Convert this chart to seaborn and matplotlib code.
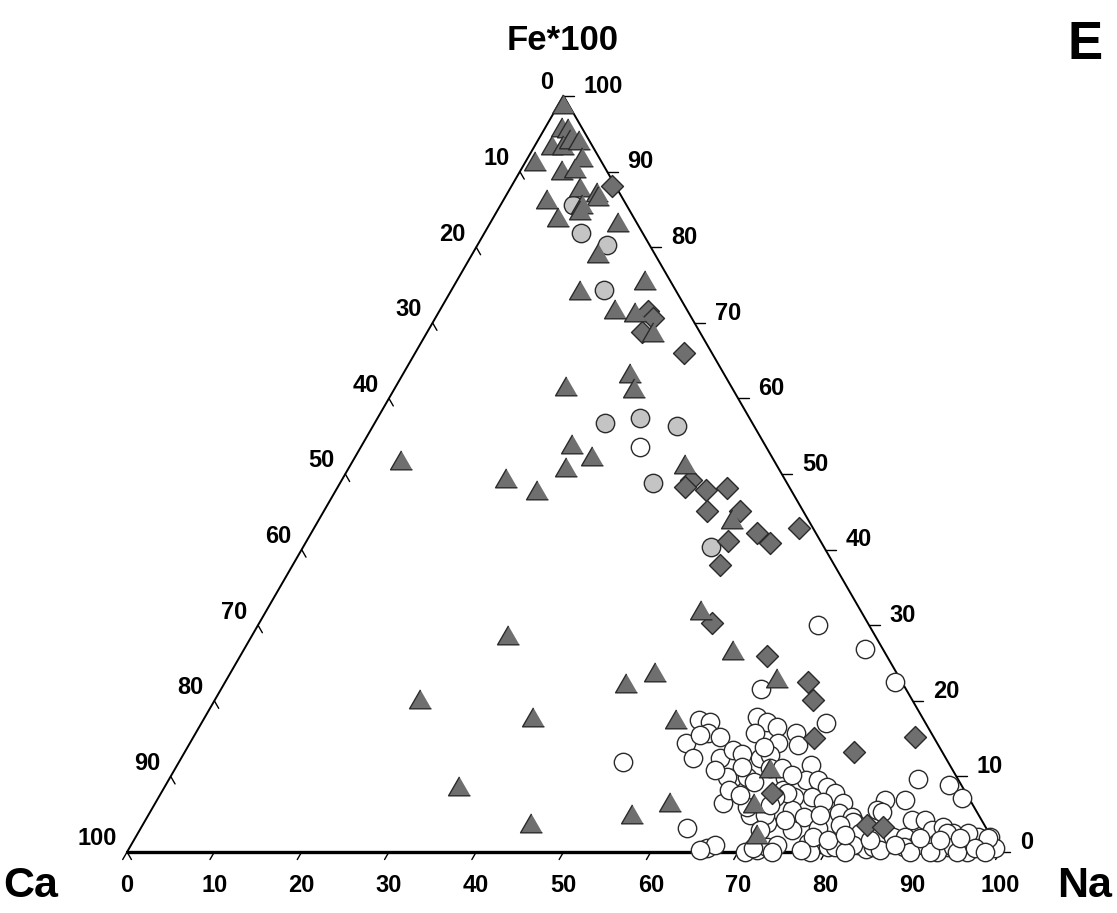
import numpy as np
import pandas as pd
import seaborn as sns
import matplotlib
matplotlib.use("Agg")
import matplotlib.pyplot as plt

# ternary compositions in percent; Ca = 100 - Fe - Na
tri_fe = [98.5, 95.5, 95.4, 93.1, 93.1, 93.9, 93.8, 91.0, 91.5, 89.8, 90.1, 87.6, 86.9, 86.4,
          86.0, 85.3, 84.5, 83.6, 82.9, 78.8, 73.9, 75.3, 71.4, 71.0, 68.4, 63.0, 61.0, 61.2,
          53.6, 52.0, 50.5, 49.1, 47.5, 50.9, 43.7, 51.5, 31.6, 28.3, 26.3, 19.8, 17.5, 22.0,
          23.4, 22.6, 17.2, 8.3, 3.4, 4.6, 6.2, 10.7, 6.1, 2.0]
tri_na = [0.7, 2.1, 2.8, 2.1, 3.4, 3.8, 4.9, 1.2, 6.4, 4.9, 6.3, 8.1, 10.4, 10.8,
          5.1, 9.5, 9.6, 7.6, 14.8, 14.6, 14.9, 21.7, 20.2, 22.7, 26.1, 26.1, 27.6, 19.7,
          24.2, 27.3, 25.0, 18.9, 23.2, 38.5, 47.4, 5.6, 50.0, 29.5, 56.3, 23.7, 37.8, 46.2,
          48.8, 63.2, 54.3, 33.9, 44.6, 55.5, 59.1, 68.3, 68.8, 71.2]

dia_fe = [88.1, 71.6, 70.6, 68.8, 66.0, 49.2, 48.3, 47.9, 48.1, 45.1, 45.1, 42.2, 40.9,
          42.9, 41.1, 38.0, 30.3, 25.9, 22.5, 20.1, 15.1, 13.2, 15.2, 7.8, 3.6, 3.3]
dia_na = [11.5, 23.9, 25.0, 24.6, 30.8, 40.0, 39.8, 42.4, 44.7, 43.9, 47.7, 51.1, 53.2,
          55.5, 48.3, 48.9, 51.9, 60.4, 66.7, 68.5, 71.2, 76.7, 82.7, 70.0, 83.0, 84.9]

grey_fe = [85.6, 81.9, 80.3, 74.3, 56.7, 57.4, 56.3, 48.8, 40.3]
grey_na = [8.3, 11.0, 14.8, 17.5, 26.4, 30.1, 34.9, 35.9, 46.7]

open_fe = [53.6, 30.0, 26.9, 22.5, 21.6, 11.9, 3.2, 17.1,
           17.5, 17.2, 15.7, 15.2, 14.4, 12.4, 12.4, 13.5, 13.0, 17.9, 17.2, 16.5, 15.7, 14.4,
           12.4, 12.8, 9.8, 9.9, 6.5, 0.5, 0.9, 0.0, 0.3, 0.7, 0.9, 4.9, 3.8, 13.9, 15.7, 14.2,
           11.5, 9.5, 9.8, 9.5, 8.6, 7.8, 6.5, 7.3, 6.6, 7.3, 8.2, 5.6, 4.6, 5.2, 4.6, 3.8,
           3.2, 2.9, 1.2, 0.7, 0.7, 0.9, 0.4, 0.0, 6.9, 5.6, 2.0, 6.9, 2.0, 9.7, 8.9, 7.1,
           4.2, 4.2, 2.9, 3.3, 2.5, 1.2, 2.0, 2.0, 0.5, 0.7, 0.9, 1.2, 0.7, 0.0, 0.7, 0.7,
           0.0, 0.0, 9.3, 11.1, 11.1, 11.2, 4.9, 4.0, 2.5, 0.7, 0.9, 0.5, 0.0, 2.0, 1.6, 7.8,
           5.3, 2.5, 1.9, 0.0, 2.5, 0.7, 9.9, 6.0, 7.3, 10.2, 3.6, 0.3, 0.3, 0.0, 0.3, 0.0,
           0.5, 0.9, 1.9, 1.9, 0.0, 1.6,
           8.2, 10.9, 7.5, 15.5, 6.2, 4.2, 4.9, 2.3, 1.6, 2.9]
open_na = [32.0, 64.1, 71.1, 76.7, 61.8, 50.9, 62.6, 71.5,
           56.8, 58.2, 58.7, 60.3, 56.8, 58.6, 61.7, 62.7, 64.0, 63.2, 64.7, 66.2, 64.1, 67.4,
           66.3, 67.2, 64.4, 66.1, 65.0, 66.2, 66.9, 70.8, 72.0, 73.0, 74.0, 68.9, 71.4, 66.0,
           68.8, 69.8, 72.6, 73.0, 70.5, 74.4, 75.9, 77.2, 78.8, 74.8, 76.4, 72.7, 71.1, 73.4,
           75.3, 79.0, 80.7, 81.5, 77.6, 74.7, 77.4, 79.9, 80.8, 83.3, 84.4, 78.2, 83.4, 83.1,
           86.8, 85.7, 88.1, 85.8, 89.7, 92.1, 87.8, 89.3, 90.8, 91.8, 93.4, 95.1, 96.5, 97.9,
           99.2, 89.7, 90.7, 92.2, 93.7, 96.2, 88.6, 97.6, 89.7, 92.8, 67.2, 68.1, 69.5, 64.9,
           70.6, 81.2, 82.7, 85.1, 82.7, 71.4, 73.9, 77.6, 79.5, 71.7, 83.8, 95.1, 97.7, 92.0,
           92.7, 94.3, 63.8, 68.0, 70.6, 71.1, 79.9, 65.5, 77.0, 82.2, 86.1, 95.1, 96.9, 87.5,
           89.9, 94.5, 98.3, 92.3,
           64.8, 61.9, 66.5, 57.9, 70.6, 73.3, 76.9, 81.1, 84.3, 71.1]

ticks = list(range(0, 101, 10))
H = np.sqrt(3) / 2


def to_xy(fe, na):
    fe = np.asarray(fe, float)
    na = np.asarray(na, float)
    return na + fe / 2, fe * H


sns.set_style("white")
plt.rcParams['font.family'] = ['Liberation Sans', 'DejaVu Sans']
plt.rcParams['font.weight'] = 'bold'
plt.rcParams['text.color'] = 'black'

fig = plt.figure(figsize=(11.17, 9.13), dpi=100)
ax = fig.add_axes([0, 0, 1, 1])

# frame
ax.plot([0, 50, 100], [0, 100 * H, 0], color='black', lw=1.4, zorder=1)
ax.plot([0, 100], [0, 0], color='black', lw=2.4, zorder=1)

L = 1.0
tk = dict(fontsize=17, fontweight='bold', color='black')
for v in ticks:
    # bottom axis (Na)
    ax.plot([v, v - 0.5 * L], [0, -H * L], color='black', lw=1)
    ax.text(v, -3.8, str(v), ha='center', va='center', **tk)
    # left axis (Ca)
    lx, ly = (100 - v) / 2, (100 - v) * H
    ax.plot([lx, lx + 0.5 * L], [ly, ly - H * L], color='black', lw=1)
    ax.text(lx - 1.2, ly + 1.5, str(v), ha='right', va='center', **tk)
    # right axis (Fe)
    rx, ry = 100 - v / 2, v * H
    ax.plot([rx, rx + 1.2 * L], [ry, ry], color='black', lw=1)
    ax.text(rx + 2.3, ry + 1.1, str(v), ha='left', va='center', **tk)

tri_marker = [(0, 1.0), (-0.866, -0.5), (0.866, -0.5)]
groups = [
    (open_fe, open_na, 'o', 'white', 175, 2),
    (grey_fe, grey_na, 'o', '#c4c4c4', 175, 3),
    (dia_fe, dia_na, 'D', '#6f6f6f', 125, 4),
    (tri_fe, tri_na, tri_marker, '#6f6f6f', 330, 5),
]
for fe, na, mk, col, size, z in groups:
    x, y = to_xy(fe, na)
    df = pd.DataFrame({'x': x, 'y': y})
    sns.scatterplot(data=df, x='x', y='y', marker=mk, s=size, color=col,
                    edgecolor='#2a2a2a', linewidth=1.0, ax=ax, zorder=z, legend=False)

ax.set_xlim(-14.55, 113.4)
ax.set_ylim(-6.99, 97.6)
ax.set_aspect('equal')
ax.axis('off')

ax.text(49.9, 93.0, 'Fe*100', ha='center', va='center', fontsize=25, fontweight='bold')
ax.text(109.7, 92.4, 'E', ha='center', va='center', fontsize=38, fontweight='bold')
ax.text(-11.0, -3.9, 'Ca', ha='center', va='center', fontsize=31, fontweight='bold')
ax.text(109.7, -3.9, 'Na', ha='center', va='center', fontsize=31, fontweight='bold')

fig.savefig('out.png', dpi=100)
